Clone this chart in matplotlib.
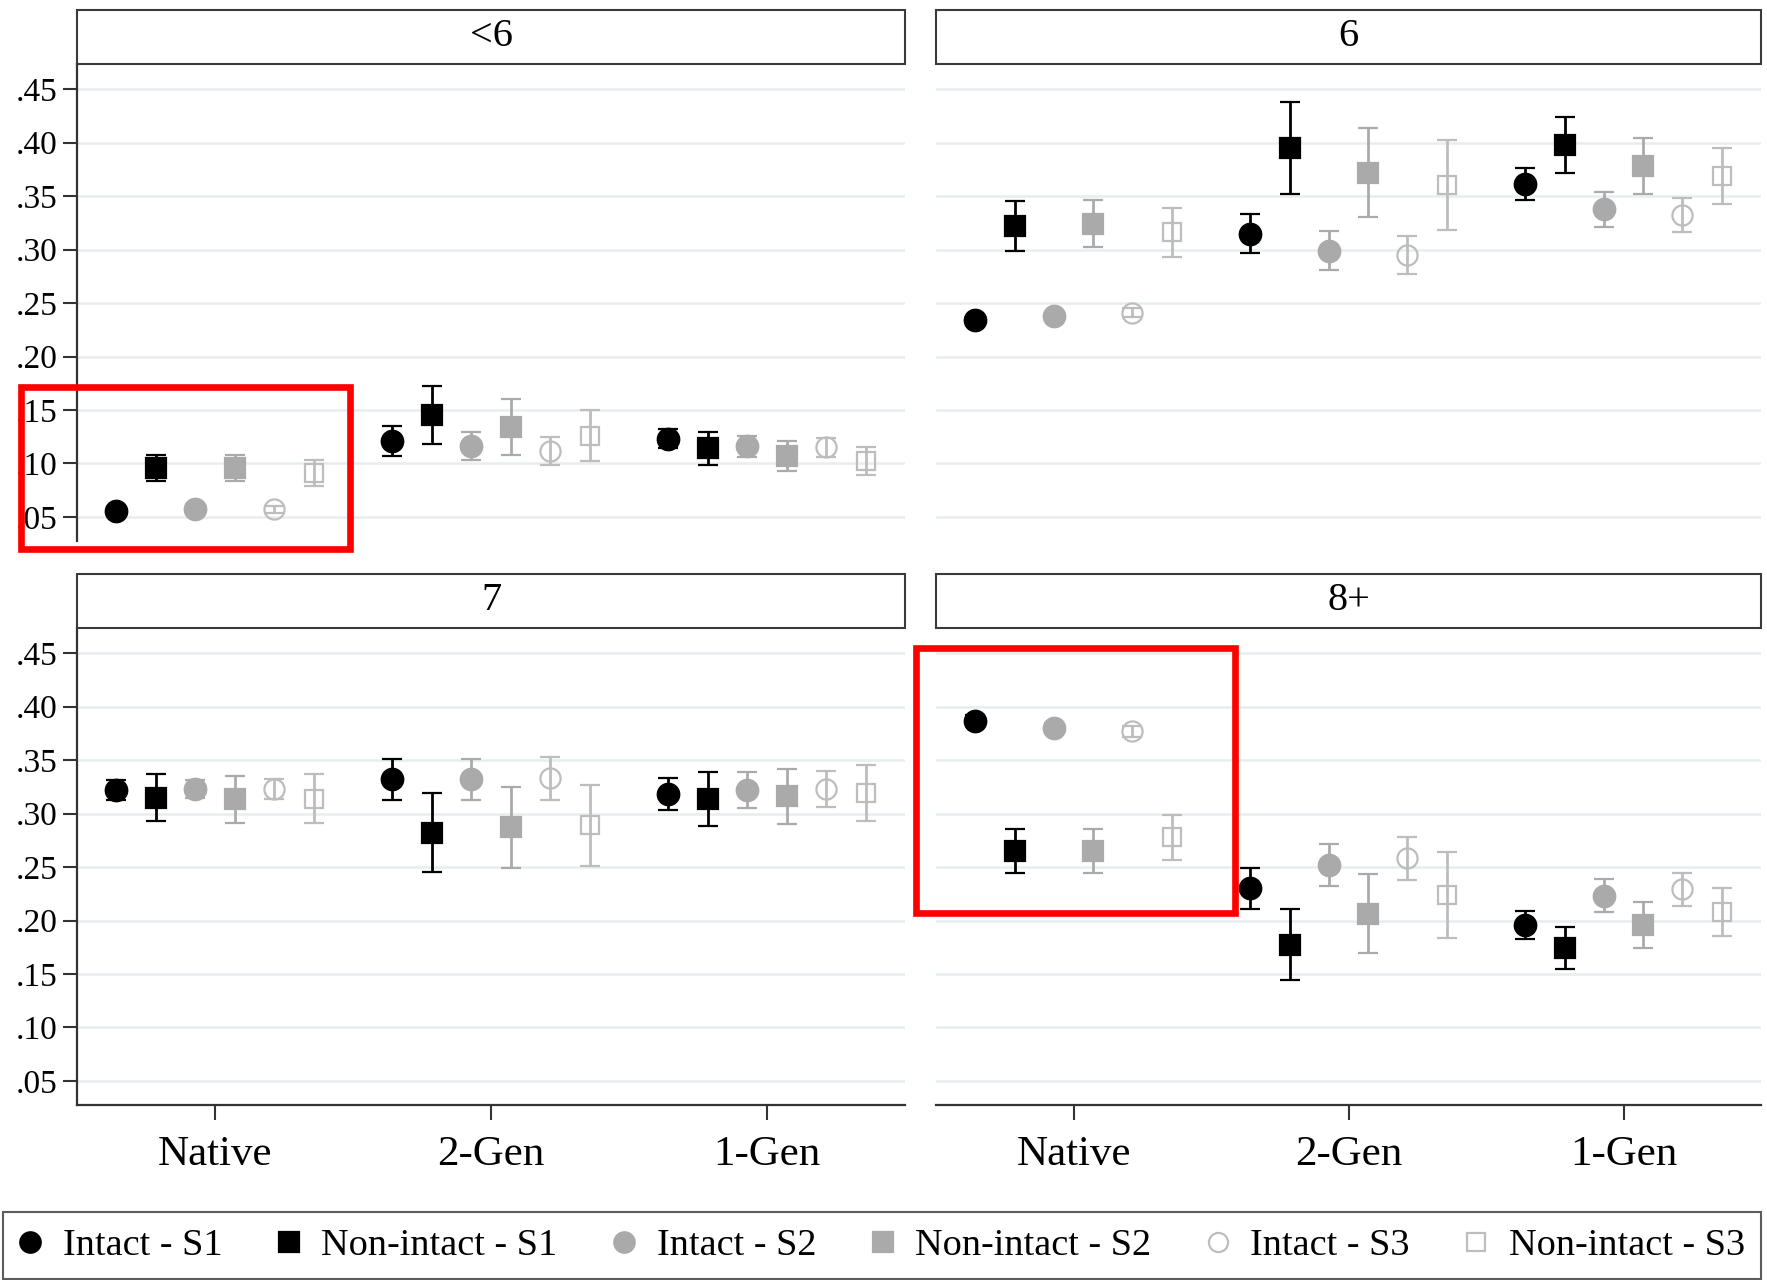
import matplotlib
matplotlib.use("Agg")
import matplotlib.pyplot as plt
from matplotlib.patches import Rectangle
from matplotlib.lines import Line2D

plt.rcParams['font.family'] = ['Liberation Serif', 'DejaVu Serif']

# ---- data -------------------------------------------------------------
panel_titles = ["<6", "6", "7", "8+"]
categories = ["Native", "2-Gen", "1-Gen"]
series_labels = ["Intact - S1", "Non-intact - S1", "Intact - S2",
                 "Non-intact - S2", "Intact - S3", "Non-intact - S3"]
y_ticks = [0.05, 0.10, 0.15, 0.20, 0.25, 0.30, 0.35, 0.40, 0.45]

# rows: series (same order as series_labels); columns: categories
est_lt6 = [[0.056, 0.121, 0.123],
           [0.096, 0.145, 0.114],
           [0.057, 0.116, 0.116],
           [0.096, 0.134, 0.107],
           [0.057, 0.112, 0.115],
           [0.091, 0.126, 0.102]]
err_lt6 = [[0.003, 0.014, 0.009],
           [0.012, 0.027, 0.015],
           [0.003, 0.013, 0.010],
           [0.012, 0.026, 0.014],
           [0.003, 0.013, 0.009],
           [0.012, 0.024, 0.013]]

est_6 = [[0.234, 0.315, 0.361],
         [0.322, 0.395, 0.398],
         [0.238, 0.299, 0.3375],
         [0.324, 0.372, 0.378],
         [0.241, 0.295, 0.332],
         [0.316, 0.360, 0.369]]
err_6 = [[0.004, 0.018, 0.015],
         [0.023, 0.043, 0.026],
         [0.004, 0.018, 0.016],
         [0.022, 0.042, 0.026],
         [0.004, 0.018, 0.016],
         [0.023, 0.042, 0.026]]

est_7 = [[0.322, 0.332, 0.318],
         [0.315, 0.282, 0.3135],
         [0.323, 0.332, 0.322],
         [0.3135, 0.287, 0.316],
         [0.323, 0.333, 0.323],
         [0.314, 0.289, 0.319]]
err_7 = [[0.009, 0.019, 0.015],
         [0.022, 0.037, 0.025],
         [0.008, 0.019, 0.017],
         [0.022, 0.038, 0.026],
         [0.009, 0.020, 0.017],
         [0.023, 0.038, 0.026]]

est_8p = [[0.387, 0.230, 0.196],
          [0.265, 0.1775, 0.174],
          [0.380, 0.252, 0.223],
          [0.265, 0.2065, 0.196],
          [0.377, 0.258, 0.229],
          [0.278, 0.224, 0.208]]
err_8p = [[0.005, 0.019, 0.013],
          [0.021, 0.0335, 0.0195],
          [0.005, 0.020, 0.0155],
          [0.021, 0.037, 0.0215],
          [0.005, 0.0205, 0.0155],
          [0.021, 0.0405, 0.0225]]

# ---- styles -----------------------------------------------------------
C1, C2, C3 = "#000000", "#aaaaaa", "#bdbdbd"
styles = [
    dict(marker="o", ms=15.5, mfc=C1, mec=C1, color=C1),
    dict(marker="s", ms=14.5, mfc=C1, mec=C1, color=C1),
    dict(marker="o", ms=15.5, mfc=C2, mec=C2, color=C2),
    dict(marker="s", ms=14.5, mfc=C2, mec=C2, color=C2),
    dict(marker="o", ms=14.5, mfc="none", mec=C3, color=C3),
    dict(marker="s", ms=13.5, mfc="none", mec=C3, color=C3),
]
offsets = [(i - 2.5) * 0.143 for i in range(6)]

W, H = 1767, 1280
fig = plt.figure(figsize=(W / 100, H / 100), dpi=100)

# panel boxes in pixels: left, right, strip top, plot top, plot bottom
cols_px = [(77, 905), (936, 1761)]
rows_px = [(10, 64, 541), (574, 628, 1105)]
panel_data = [(est_lt6, err_lt6), (est_6, err_6), (est_7, err_7), (est_8p, err_8p)]

for k, (est, err) in enumerate(panel_data):
    r, c = divmod(k, 2)
    l, rr = cols_px[c]
    st, t, b = rows_px[r]
    ax = fig.add_axes([l / W, 1 - b / H, (rr - l) / W, (b - t) / H])
    ax.set_xlim(0.5, 3.5)
    ax.set_ylim(0.0275, 0.4735)
    ax.set_yticks(y_ticks)
    ax.set_yticklabels(["." + f"{int(round(v * 100)):02d}" for v in y_ticks])
    ax.set_xticks([1, 2, 3])
    ax.set_xticklabels(categories)
    ax.yaxis.grid(True, color="#e6eef0", lw=1.8)
    ax.set_axisbelow(True)
    for s in ax.spines.values():
        s.set_visible(False)
        s.set_color("#333333")
        s.set_linewidth(1.6)
    if c == 0:
        ax.spines["left"].set_visible(True)
        ax.tick_params(axis="y", length=10, width=1.5, color="#333333",
                       labelsize=24, pad=4)
    else:
        ax.tick_params(axis="y", length=0, labelleft=False)
    if r == 1:
        ax.spines["bottom"].set_visible(True)
        ax.tick_params(axis="x", length=11, width=1.5, color="#333333",
                       labelsize=31, pad=11)
    else:
        ax.tick_params(axis="x", length=0, labelbottom=False)

    for i in range(6):
        xs = [j + 1 + offsets[i] for j in range(3)]
        st_i = styles[i]
        ax.errorbar(xs, est[i], yerr=err[i], fmt=st_i["marker"], ms=st_i["ms"],
                    mfc=st_i["mfc"], mec=st_i["mec"], mew=1.6,
                    ecolor=st_i["color"], elinewidth=2.0, capsize=7,
                    capthick=2.0, ls="none", zorder=3)

    # strip with panel title
    fig.add_artist(Rectangle((l / W, 1 - t / H), (rr - l) / W, (t - st) / H,
                             transform=fig.transFigure, facecolor="white",
                             edgecolor="#3a3a3a", lw=1.5))
    fig.text((l + rr) / 2 / W, 1 - (st + t) / 2 / H, panel_titles[k],
             ha="center", va="center", fontsize=29)

# highlighted regions
for (x0, y0, x1, y1) in [(21, 387, 350, 549), (916, 648, 1235, 913)]:
    fig.add_artist(Rectangle((x0 / W, 1 - y1 / H), (x1 - x0) / W, (y1 - y0) / H,
                             transform=fig.transFigure, fill=False,
                             edgecolor="#ff0000", lw=4.8, zorder=10))

# legend
handles = [Line2D([], [], ls="none", marker=s["marker"], ms=s["ms"] * 0.95,
                  mfc=s["mfc"], mec=s["mec"], mew=1.6) for s in styles]
leg = fig.legend(handles, series_labels, loc="lower left",
                 bbox_to_anchor=(3 / W, 1 / H, (1761 - 3) / W, 72 / H),
                 mode="expand", ncol=6, frameon=True, fancybox=False,
                 fontsize=27.5, handlelength=0.6, handletextpad=0.55,
                 borderaxespad=0, borderpad=0.42, columnspacing=1.0)
leg.get_frame().set_edgecolor("#333333")
leg.get_frame().set_linewidth(1.5)

fig.savefig("out.png", dpi=100, facecolor="white")
